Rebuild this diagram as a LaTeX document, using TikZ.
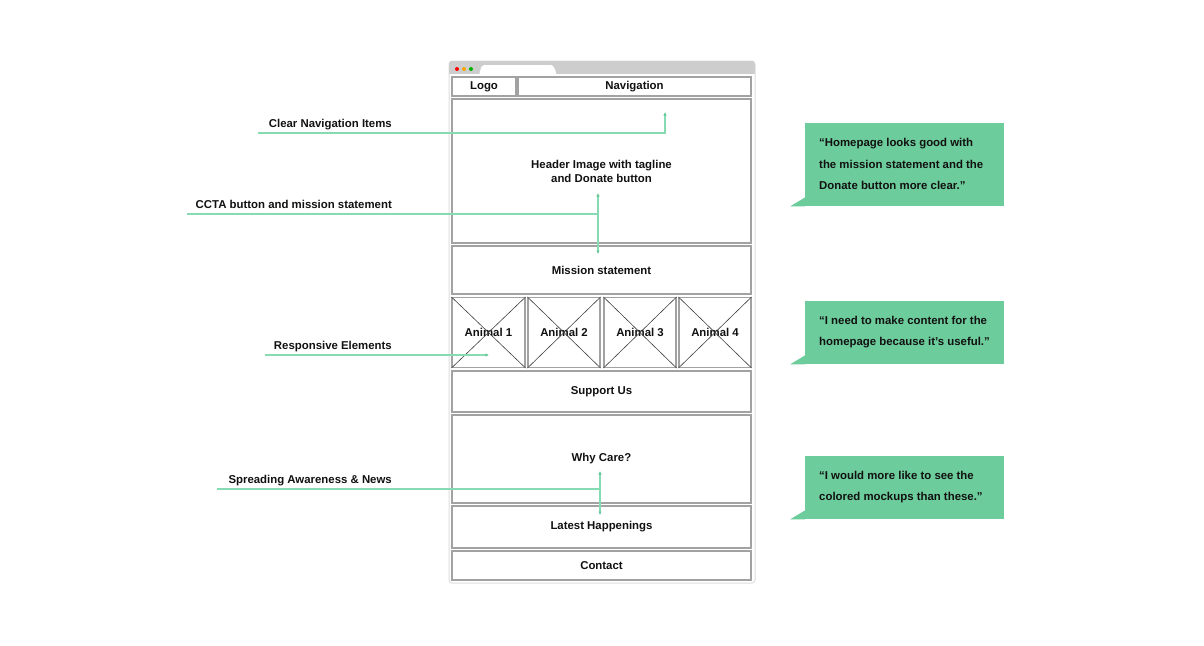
\documentclass[tikz,border=0pt]{standalone}
\usepackage{fontspec}
\setmainfont{Liberation Sans}
\usetikzlibrary{arrows.meta}
\definecolor{mint}{HTML}{86DBB2}
\definecolor{minttip}{HTML}{5FC793}
\definecolor{bubble}{HTML}{6DCC9B}
\definecolor{frame}{HTML}{A2A2A2}
\definecolor{barcol}{HTML}{CDCDCD}
\definecolor{ink}{HTML}{111111}
\newcommand{\labfont}{\bfseries\fontsize{11.4}{14}\selectfont}

\begin{document}
\begin{tikzpicture}[x=1pt,y=-1pt,
	box/.style={draw=frame, line width=1.1pt, fill=white, inner sep=0pt,
		text=ink, font=\labfont, align=center},
	note/.style={text=ink, font=\labfont, inner sep=0pt, anchor=base east},
	pointer/.style={draw=mint, line width=1.2pt},
	tip/.style={-{Latex[length=3.5pt,width=3.5pt,color=minttip]}},
	twotips/.style={{Latex[length=3.5pt,width=3.5pt,color=minttip]}-{Latex[length=3.5pt,width=3.5pt,color=minttip]}},
	quote/.style={fill=bubble, inner sep=0pt, anchor=north west,
		minimum width=199, minimum height=#1},
	quotetext/.style={text=ink, inner sep=0pt, anchor=west, align=left,
		font=\bfseries\fontsize{11.4}{21.5}\selectfont}]
\useasboundingbox (0,0) rectangle (1204,645);
% browser window
\draw[draw=black!13, line width=1pt, fill=white, rounded corners=3] (449,61) rectangle (755,583);
\begin{scope}
	\clip[rounded corners=3] (449,61) rectangle (755,90);
	\fill[barcol] (449,61) rectangle (755,74);
\end{scope}
\fill[white, rounded corners=2] (479,74.5) -- (482,65) -- (553,65) -- (557,74.5) -- cycle;
\foreach \c [count=\i] in {red, orange!70!yellow, green!70!black}
	\fill[\c] (450+7*\i, 69) circle (2);
% page blocks
\foreach \n/\xa/\ya/\xb/\yb/\t in {
	logo/452/77/516/96/Logo,
	nav/518/77/751/96/Navigation,
	header/452/99/751/243/{Header Image with tagline\\and Donate button},
	mission/452/246/751/294/Mission statement,
	support/452/371/751/412/Support Us,
	whycare/452/415/751/503/Why Care?,
	latest/452/506/751/548/Latest Happenings,
	contact/452/551/751/580/Contact}
	\node[box, minimum width=\xb-\xa, minimum height=\yb-\ya]
		(\n) at ({(\xa+\xb)/2}, {(\ya+\yb)/2}) {\t};
\foreach \i/\xa/\xb in {1/452/525, 2/528/600, 3/604/676, 4/679/751} {
	\node[box, minimum width=\xb-\xa, minimum height=70]
		(animal\i) at ({(\xa+\xb)/2}, 332.5) {Animal \i};
	\draw[black!75, line width=0.6pt]
		(animal\i.north west) -- (animal\i.south east)
		(animal\i.north east) -- (animal\i.south west);
}
% annotations
\coordinate (navfrom) at (258,133);
\coordinate (navto) at (665,112);
\coordinate (ctafrom) at (187,214);
\coordinate (ctaup) at (598,193);
\coordinate (ctadown) at (598,254);
\coordinate (respfrom) at (265,355);
\coordinate (respto) at (489,355);
\coordinate (newsfrom) at (217,489);
\coordinate (newsup) at (600,471);
\coordinate (newsdown) at (600,515);
\node[note] (navnote) at (392,127.5) {Clear Navigation Items};
\node[note] (ctanote) at (392,208.5) {CCTA button and mission statement};
\node[note] (respnote) at (392,349.5) {Responsive Elements};
\node[note] (newsnote) at (392,483.5) {Spreading Awareness \& News};
\draw[pointer, tip] (navfrom) -| (navto);
\draw[pointer] (ctafrom) -- (ctafrom -| ctaup);
\draw[pointer, twotips] (ctaup) -- (ctadown);
\draw[pointer, tip] (respfrom) -- (respto);
\draw[pointer] (newsfrom) -- (newsfrom -| newsup);
\draw[pointer, twotips] (newsup) -- (newsdown);
% feedback bubbles
\foreach \n/\y/\h/\t in {
	quote1/123/83/{“Homepage looks good with\\the mission statement and the\\Donate button more clear.”},
	quote2/301/63/{“I need to make content for the\\homepage because it’s useful.”},
	quote3/456/63/{“I would more like to see the\\colored mockups than these.”}} {
	\node[quote=\h] (\n) at (805,\y) {};
	\fill[bubble] ([yshift=9pt]\n.south west) -- ++(-15,9) -- (\n.south west) -- cycle;
	\node[quotetext] (\n text) at ([xshift=14pt, yshift=0.5pt]\n.west) {\t};
}
\end{tikzpicture}
\end{document}
